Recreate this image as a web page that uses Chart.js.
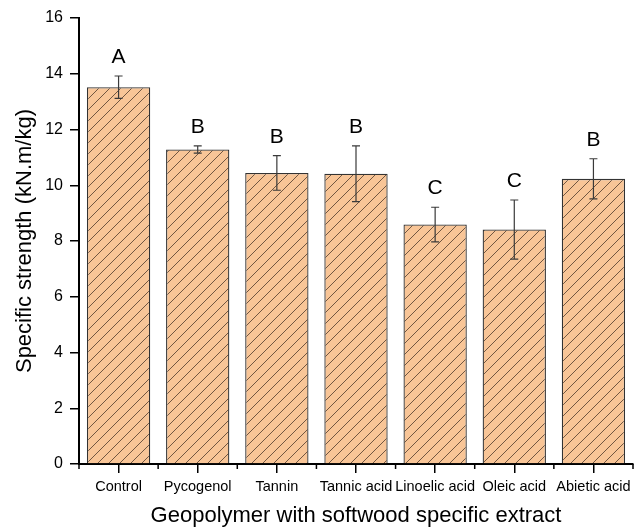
<!DOCTYPE html>
<html>
<head>
<meta charset="utf-8">
<script src="https://cdn.jsdelivr.net/npm/chart.js@4/dist/chart.umd.min.js"></script>
<style>
    html, body { margin: 0; padding: 0; background: #fff; }
    #wrap { width: 640px; height: 529px; }
</style>
</head>
<body>
<div id="wrap"><canvas id="chart"></canvas></div>
<script>
// Chart data
const categories = ['Control', 'Pycogenol', 'Tannin', 'Tannic acid', 'Linoelic acid', 'Oleic acid', 'Abietic acid'];
const strengthValues = [13.52, 11.28, 10.44, 10.41, 8.59, 8.41, 10.23];
const strengthErrors = [0.40, 0.13, 0.62, 1.00, 0.62, 1.06, 0.72];
const groupLetters = ['A', 'B', 'B', 'B', 'C', 'C', 'B'];
const yTicks = [0, 2, 4, 6, 8, 10, 12, 14, 16];

const fontFamily = '"Liberation Sans", Arial, sans-serif';

// Build the hatched fill (orange with "/" lines)
function makeHatch(fill, lineColor, size) {
    const c = document.createElement('canvas');
    c.width = size;
    c.height = size;
    const g = c.getContext('2d');
    g.fillStyle = fill;
    g.fillRect(0, 0, size, size);
    g.strokeStyle = lineColor;
    g.lineWidth = 0.9;
    g.beginPath();
    g.moveTo(0, size); g.lineTo(size, 0);
    g.moveTo(-size, size); g.lineTo(0, 0);
    g.moveTo(size, 2 * size); g.lineTo(2 * size, size);
    g.stroke();
    return g.createPattern(c, 'repeat');
}

// Error bars, group letters and minor x ticks
const extrasPlugin = {
    id: 'extras',
    afterDatasetsDraw(chart) {
        const ctx = chart.ctx;
        const x = chart.scales.x;
        const y = chart.scales.y;
        ctx.save();
        ctx.strokeStyle = '#3a3a3a';
        ctx.lineWidth = 1.2;
        strengthValues.forEach((v, i) => {
            const px = x.getPixelForValue(i);
            const top = y.getPixelForValue(v + strengthErrors[i]);
            const bot = y.getPixelForValue(v - strengthErrors[i]);
            ctx.beginPath();
            ctx.moveTo(px, top); ctx.lineTo(px, bot);
            ctx.moveTo(px - 4, top); ctx.lineTo(px + 4, top);
            ctx.moveTo(px - 4, bot); ctx.lineTo(px + 4, bot);
            ctx.stroke();

            ctx.fillStyle = '#000';
            ctx.font = '21px ' + fontFamily;
            ctx.textAlign = 'center';
            ctx.textBaseline = 'alphabetic';
            ctx.fillText(groupLetters[i], px, top - 13);
        });

        // minor ticks between categories
        const half = (x.getPixelForValue(1) - x.getPixelForValue(0)) / 2;
        ctx.strokeStyle = '#000';
        ctx.lineWidth = 1.5;
        ctx.beginPath();
        for (let i = 0; i <= categories.length; i++) {
            const px = x.getPixelForValue(i) - half;
            ctx.moveTo(px, x.top);
            ctx.lineTo(px, x.top + 5);
        }
        ctx.stroke();
        ctx.restore();
    }
};

const ctx = document.getElementById('chart').getContext('2d');
const hatch = makeHatch('#F8C597', 'rgba(80,60,45,0.9)', 11);

new Chart(ctx, {
    type: 'bar',
    data: {
        labels: categories,
        datasets: [{
            label: 'Specific strength',
            data: strengthValues,
            backgroundColor: hatch,
            borderColor: '#333',
            borderWidth: 1.3,
            barPercentage: 1.0,
            categoryPercentage: 0.8
        }]
    },
    options: {
        responsive: true,
        maintainAspectRatio: false,
        animation: false,
        layout: { padding: { top: 18, right: 7, bottom: 0, left: 0 } },
        plugins: {
            legend: { display: false },
            tooltip: { enabled: false }
        },
        scales: {
            x: {
                grid: {
                    display: true,
                    drawOnChartArea: false,
                    drawTicks: true,
                    offset: false,
                    tickLength: 9,
                    color: '#000',
                    lineWidth: 1.5
                },
                border: { display: true, color: '#000', width: 2 },
                ticks: {
                    color: '#000',
                    padding: 5,
                    maxRotation: 0,
                    autoSkip: false,
                    font: { family: fontFamily, size: 14.5 }
                },
                title: {
                    display: true,
                    text: 'Geopolymer with softwood specific extract',
                    color: '#000',
                    padding: { top: 1, bottom: 0 },
                    font: { family: fontFamily, size: 22 }
                },
                afterFit(scale) { scale.height = 65; }
            },
            y: {
                min: 0,
                max: 16,
                afterBuildTicks(scale) { scale.ticks = yTicks.map(v => ({ value: v })); },
                grid: {
                    display: true,
                    drawOnChartArea: false,
                    drawTicks: true,
                    tickLength: 9,
                    color: '#000',
                    lineWidth: 1.5
                },
                border: { display: true, color: '#000', width: 2 },
                ticks: {
                    color: '#000',
                    padding: 7,
                    font: { family: fontFamily, size: 16 }
                },
                title: {
                    display: true,
                    text: 'Specific strength (kN.m/kg)',
                    color: '#000',
                    padding: { top: 12, bottom: 0 },
                    font: { family: fontFamily, size: 22 }
                },
                afterFit(scale) { scale.width = 79; }
            }
        }
    },
    plugins: [extrasPlugin]
});
</script>
</body>
</html>
